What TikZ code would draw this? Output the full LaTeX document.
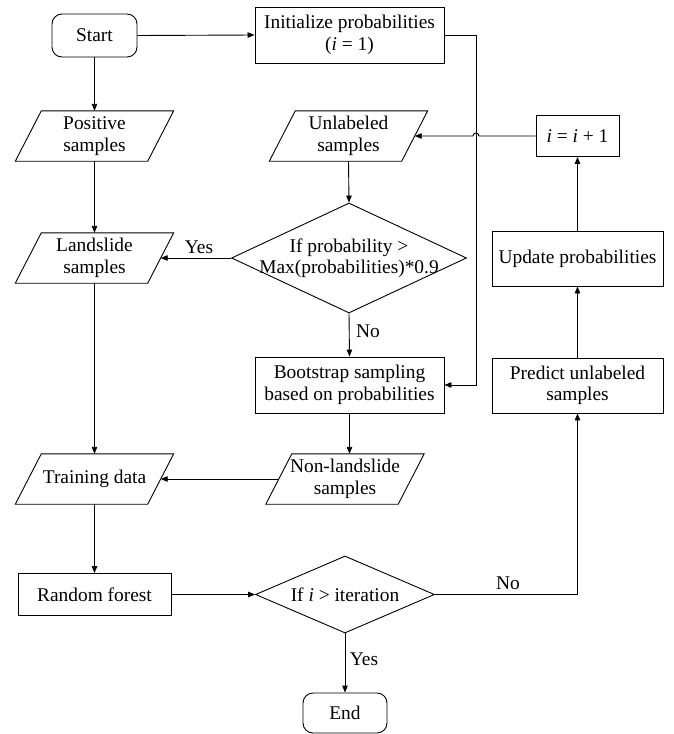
\documentclass[tikz,border=0pt]{standalone}
\usepackage{fontspec}
\setmainfont{Liberation Serif}
\usetikzlibrary{shapes.geometric,arrows.meta}
\tikzset{
  base/.style={font=\fontsize{19.4}{21.5}\selectfont, align=center, inner sep=0pt},
  box/.style={base, draw, rectangle, line width=0.9pt},
  term/.style={base, draw, rectangle, rounded corners=10pt, line width=0.9pt},
  para/.style={base, rectangle, minimum width=132pt, minimum height=50pt},
  dec/.style={draw, diamond, inner sep=0pt, line width=0.9pt},
  lbl/.style={base},
  arr/.style={line width=0.9pt, -{Triangle[length=7pt,width=5.5pt]}},
  ln/.style={line width=0.9pt}
}
\newcommand\drawpara[1]{\draw[ln] ([xshift=13pt]#1.north west) -- ([xshift=13pt]#1.north east) -- ([xshift=-13pt]#1.south east) -- ([xshift=-13pt]#1.south west) -- cycle;}
\begin{document}
\begin{tikzpicture}[x=1pt,y=-1pt]
\useasboundingbox (0,0) rectangle (674,734);
% nodes
\node[term, minimum width=85pt, minimum height=43pt] (start) at (94.5,35.5) {Start};
\node[box, minimum width=189pt, minimum height=56pt] (init) at (349.5,35) {Initialize probabilities\\(\textit{i} = 1)};
\node[para] (pos) at (94.5,136) {Positive\\samples};
\node[para] (unl) at (348.5,136) {Unlabeled\\samples};
\node[box, minimum width=83pt, minimum height=41pt] (inc) at (577.5,136) {\textit{i} = \textit{i} + 1};
\node[dec, minimum width=235pt, minimum height=110pt] (d1) at (349,258) {};
\node[base] (d1t) at (d1.center) {If probability >\\Max(probabilities)*0.9};
\node[para] (land) at (94.5,258) {Landslide\\samples};
\node[box, minimum width=171pt, minimum height=55pt] (upd) at (577.5,258.5) {Update probabilities};
\node[box, minimum width=189pt, minimum height=56pt] (boot) at (349.5,385) {Bootstrap sampling\\based on probabilities};
\node[box, minimum width=171pt, minimum height=55pt] (pred) at (577.5,385.5) {Predict unlabeled\\samples};
\node[para] (train) at (94.5,479) {Training data};
\node[para] (non) at (345,479) {Non-landslide\\samples};
\node[box, minimum width=153pt, minimum height=42pt] (rf) at (94.5,594.5) {Random forest};
\node[dec, minimum width=179pt, minimum height=77pt] (d2) at (345,594.5) {};
\node[base] (d2t) at (d2.center) {If \textit{i} > iteration};
\node[term, minimum width=84pt, minimum height=40pt] (end) at (345,713) {End};
\drawpara{pos}
\drawpara{unl}
\drawpara{land}
\drawpara{train}
\drawpara{non}
\coordinate (vx) at (476,35);
% labels
\node[lbl] (yes1) at (199,247) {Yes};
\node[lbl] (no1) at (368,331) {No};
\node[lbl] (yes2) at (364,659) {Yes};
\node[lbl] (no2) at (508,583) {No};
% connectors
\draw[arr] (start.east) -- (init.west);
\draw[arr] (start.south) -- (pos.north);
\draw[arr] (pos.south) -- (land.north);
\draw[arr] (land.south) -- (train.north);
\draw[arr] (train.south) -- (rf.north);
\draw[arr] (rf.east) -- (d2.west);
\draw[arr] (d2.south) -- (end.north);
\draw[arr] (d2.east) -| (pred.south);
\draw[arr] (pred.north) -- (upd.south);
\draw[arr] (upd.north) -- (inc.south);
\draw[arr] (inc.west) -- ([xshift=3pt]vx |- inc.west) arc[start angle=0,end angle=180,radius=3pt] -- (unl.east);
\draw[arr] (init.east) -- (vx) -- (vx |- boot.east) -- (boot.east);
\draw[arr] (unl.south) -- (d1.north);
\draw[arr] (d1.west) -- (land.east);
\draw[arr] (d1.south) -- (boot.north);
\draw[arr] (boot.south) -- (boot.south |- non.north);
\draw[arr] (non.west) -- (train.east);
\end{tikzpicture}
\end{document}
